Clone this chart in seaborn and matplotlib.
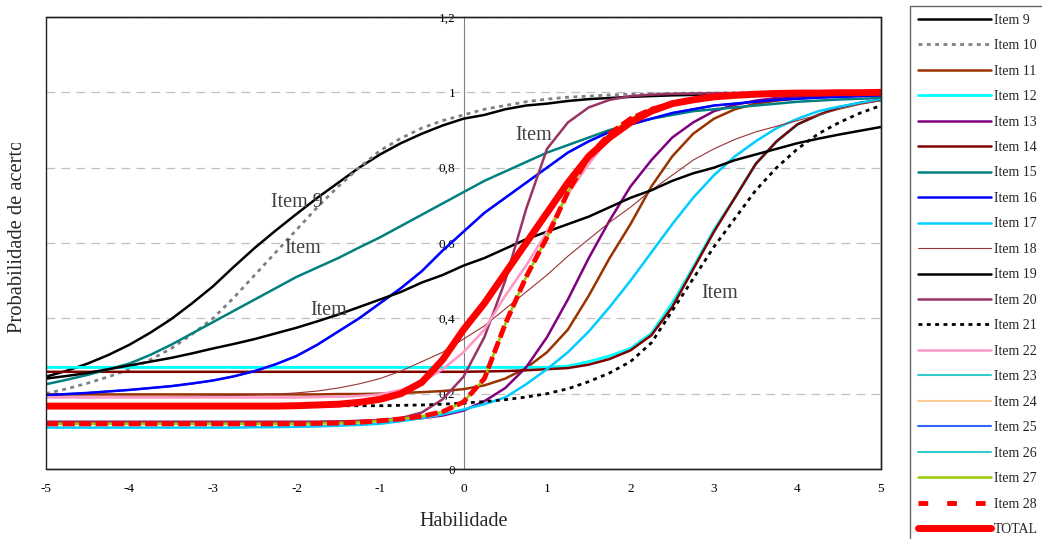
import matplotlib
matplotlib.use("Agg")
import matplotlib.pyplot as plt
from matplotlib.patches import Rectangle
from matplotlib.ticker import FuncFormatter
from matplotlib.transforms import Bbox
import seaborn as sns

# ability grid (x) shared by every curve
X = [-5, -4.75, -4.5, -4.25, -4, -3.75, -3.5, -3.25, -3, -2.75, -2.5, -2.25, -2,
     -1.75, -1.5, -1.25, -1, -0.75, -0.5, -0.25, 0,
     0.25, 0.5, 0.75, 1, 1.25, 1.5, 1.75, 2, 2.25, 2.5, 2.75, 3,
     3.25, 3.5, 3.75, 4, 4.25, 4.5, 4.75, 5]

# probabilities
ITEM9 = [0.245, 0.261, 0.28, 0.303, 0.33, 0.362, 0.398, 0.44, 0.485, 0.537, 0.587, 0.633, 0.677,
         0.72, 0.76, 0.80, 0.835, 0.865, 0.89, 0.912, 0.93,
         0.94, 0.955, 0.965, 0.97, 0.977, 0.982, 0.985, 0.988, 0.99, 0.992, 0.993, 0.994,
         0.995, 0.995, 0.996, 0.996, 0.997, 0.997, 0.997, 0.998]
ITEM10 = [0.20, 0.213, 0.228, 0.245, 0.265, 0.29, 0.32, 0.358, 0.40, 0.455, 0.515, 0.575, 0.635,
          0.695, 0.75, 0.80, 0.845, 0.878, 0.905, 0.925, 0.94,
          0.955, 0.965, 0.975, 0.982, 0.987, 0.99, 0.993, 0.995, 0.996, 0.997, 0.998, 0.998,
          0.999, 0.999, 0.999, 0.999, 1.0, 1.0, 1.0, 1.0]
ITEM11 = [0.198, 0.198, 0.198, 0.198, 0.198, 0.198, 0.198, 0.198, 0.198, 0.198, 0.198, 0.198, 0.198,
          0.198, 0.199, 0.199, 0.2, 0.202, 0.204, 0.207, 0.212,
          0.222, 0.24, 0.268, 0.31, 0.37, 0.46, 0.56, 0.65, 0.75, 0.83, 0.89, 0.93,
          0.955, 0.97, 0.978, 0.984, 0.987, 0.99, 0.991, 0.992]
ITEM12 = [0.27, 0.27, 0.27, 0.27, 0.27, 0.27, 0.27, 0.27, 0.27, 0.27, 0.27, 0.27, 0.27,
          0.27, 0.27, 0.27, 0.27, 0.27, 0.27, 0.27, 0.27,
          0.27, 0.27, 0.27, 0.27, 0.273, 0.285, 0.30, 0.32, 0.36, 0.44, 0.535, 0.635,
          0.72, 0.81, 0.87, 0.915, 0.94, 0.96, 0.972, 0.98]
ITEM13 = [0.125, 0.125, 0.125, 0.125, 0.125, 0.125, 0.125, 0.125, 0.125, 0.125, 0.125, 0.125, 0.125,
          0.125, 0.126, 0.127, 0.128, 0.13, 0.135, 0.142, 0.155,
          0.18, 0.215, 0.27, 0.35, 0.45, 0.56, 0.66, 0.75, 0.82, 0.88, 0.92, 0.95,
          0.967, 0.978, 0.985, 0.99, 0.992, 0.994, 0.995, 0.996]
ITEM14 = [0.258, 0.258, 0.258, 0.258, 0.258, 0.258, 0.258, 0.258, 0.258, 0.258, 0.258, 0.258, 0.258,
          0.258, 0.258, 0.258, 0.258, 0.258, 0.258, 0.258, 0.258,
          0.259, 0.26, 0.262, 0.265, 0.268, 0.277, 0.292, 0.315, 0.355, 0.43, 0.53, 0.63,
          0.72, 0.81, 0.87, 0.915, 0.94, 0.96, 0.972, 0.98]
ITEM15 = [0.225, 0.237, 0.25, 0.265, 0.28, 0.303, 0.33, 0.36, 0.39, 0.42, 0.45, 0.48, 0.51,
          0.535, 0.56, 0.588, 0.615, 0.645, 0.675, 0.705, 0.735,
          0.765, 0.79, 0.815, 0.84, 0.86, 0.88, 0.90, 0.915, 0.93, 0.94, 0.95, 0.955,
          0.96, 0.965, 0.97, 0.975, 0.978, 0.981, 0.983, 0.985]
ITEM16 = [0.196, 0.199, 0.202, 0.206, 0.21, 0.215, 0.22, 0.227, 0.235, 0.246, 0.26, 0.278, 0.30,
          0.33, 0.365, 0.40, 0.44, 0.48, 0.525, 0.58, 0.63,
          0.68, 0.72, 0.76, 0.80, 0.84, 0.87, 0.895, 0.915, 0.93, 0.945, 0.955, 0.965,
          0.97, 0.975, 0.98, 0.983, 0.986, 0.988, 0.99, 0.992]
ITEM17 = [0.11, 0.11, 0.11, 0.11, 0.11, 0.11, 0.11, 0.11, 0.11, 0.11, 0.111, 0.111, 0.112,
          0.113, 0.115, 0.117, 0.12, 0.127, 0.135, 0.145, 0.158,
          0.172, 0.19, 0.225, 0.265, 0.31, 0.365, 0.43, 0.50, 0.575, 0.65, 0.72, 0.78,
          0.83, 0.87, 0.905, 0.93, 0.95, 0.962, 0.972, 0.98]
ITEM18 = [0.19, 0.19, 0.19, 0.19, 0.191, 0.191, 0.192, 0.193, 0.194, 0.195, 0.197, 0.199, 0.202,
          0.207, 0.215, 0.226, 0.24, 0.26, 0.285, 0.31, 0.345,
          0.38, 0.425, 0.47, 0.515, 0.565, 0.61, 0.655, 0.695, 0.74, 0.78, 0.82, 0.85,
          0.875, 0.895, 0.91, 0.925, 0.94, 0.955, 0.968, 0.978]
ITEM19 = [0.24, 0.247, 0.255, 0.265, 0.275, 0.285, 0.295, 0.307, 0.32, 0.332, 0.345, 0.36, 0.375,
          0.392, 0.41, 0.43, 0.45, 0.47, 0.495, 0.515, 0.54,
          0.56, 0.585, 0.61, 0.63, 0.65, 0.67, 0.695, 0.72, 0.74, 0.765, 0.785, 0.80,
          0.82, 0.835, 0.85, 0.865, 0.877, 0.888, 0.898, 0.908]
ITEM20 = [0.125, 0.125, 0.125, 0.125, 0.125, 0.125, 0.125, 0.125, 0.125, 0.125, 0.125, 0.125, 0.125,
          0.125, 0.126, 0.128, 0.13, 0.135, 0.15, 0.185, 0.245,
          0.35, 0.50, 0.69, 0.85, 0.92, 0.96, 0.98, 0.99, 0.994, 0.996, 0.997, 0.998,
          0.998, 0.999, 0.999, 0.999, 1.0, 1.0, 1.0, 1.0]
ITEM21 = [0.168, 0.168, 0.168, 0.168, 0.168, 0.168, 0.168, 0.168, 0.168, 0.168, 0.168, 0.168, 0.168,
          0.168, 0.168, 0.168, 0.168, 0.169, 0.17, 0.172, 0.175,
          0.179, 0.184, 0.191, 0.2, 0.213, 0.232, 0.255, 0.285, 0.335, 0.42, 0.505, 0.59,
          0.665, 0.74, 0.80, 0.85, 0.89, 0.92, 0.945, 0.965]
ITEM22 = [0.19, 0.19, 0.19, 0.19, 0.19, 0.19, 0.19, 0.19, 0.19, 0.19, 0.19, 0.19, 0.19,
          0.191, 0.192, 0.194, 0.198, 0.21, 0.23, 0.265, 0.31,
          0.37, 0.46, 0.54, 0.63, 0.73, 0.81, 0.88, 0.925, 0.95, 0.967, 0.977, 0.984,
          0.989, 0.992, 0.994, 0.996, 0.997, 0.998, 0.998, 0.999]
ITEM28 = [0.12, 0.12, 0.12, 0.12, 0.12, 0.12, 0.12, 0.12, 0.12, 0.12, 0.12, 0.12, 0.12,
          0.121, 0.122, 0.124, 0.128, 0.133, 0.14, 0.152, 0.178,
          0.24, 0.385, 0.51, 0.615, 0.735, 0.83, 0.89, 0.93, 0.955, 0.97, 0.98, 0.988,
          0.992, 0.995, 0.997, 0.998, 0.998, 0.999, 0.999, 1.0]
TOTAL = [0.167, 0.167, 0.167, 0.167, 0.167, 0.167, 0.167, 0.167, 0.167, 0.167, 0.167, 0.167, 0.168,
         0.17, 0.172, 0.177, 0.185, 0.2, 0.23, 0.29, 0.37,
         0.44, 0.52, 0.60, 0.68, 0.76, 0.83, 0.88, 0.92, 0.95, 0.97, 0.98, 0.988,
         0.992, 0.995, 0.997, 0.998, 0.998, 0.999, 0.999, 1.0]

# items 23-27 sit exactly under other curves in the original
ITEM23 = ITEM12
ITEM24 = ITEM22
ITEM25 = ITEM16
ITEM26 = ITEM12
ITEM27 = ITEM28

NAMES = ["Item 9", "Item 10", "Item 11", "Item 12", "Item 13", "Item 14", "Item 15",
         "Item 16", "Item 17", "Item 18", "Item 19", "Item 20", "Item 21", "Item 22",
         "Item 23", "Item 24", "Item 25", "Item 26", "Item 27", "Item 28", "TOTAL"]
VALUES = [ITEM9, ITEM10, ITEM11, ITEM12, ITEM13, ITEM14, ITEM15, ITEM16, ITEM17, ITEM18,
          ITEM19, ITEM20, ITEM21, ITEM22, ITEM23, ITEM24, ITEM25, ITEM26, ITEM27, ITEM28, TOTAL]

# in-plot labels (text, x, baseline y)
NOTES = [("Item 9", -2.0, 0.696), ("Item", -1.92, 0.573), ("Item", -1.62, 0.409),
         ("Item", 0.84, 0.873), ("Item", 3.07, 0.454)]

STYLE = {
    "Item 9": dict(color="#000000", lw=1.8),
    "Item 10": dict(color="#808080", lw=2.0, dashes=[1.4, 1.6]),
    "Item 11": dict(color="#993300", lw=1.8),
    "Item 12": dict(color="#00FFFF", lw=2.0),
    "Item 13": dict(color="#800080", lw=1.8),
    "Item 14": dict(color="#800000", lw=1.8),
    "Item 15": dict(color="#008080", lw=1.8),
    "Item 16": dict(color="#0000FF", lw=1.8),
    "Item 17": dict(color="#00CCFF", lw=1.8),
    "Item 18": dict(color="#993333", lw=0.8),
    "Item 19": dict(color="#000000", lw=1.8),
    "Item 20": dict(color="#993366", lw=1.8),
    "Item 21": dict(color="#000000", lw=2.0, dashes=[1.4, 1.6]),
    "Item 22": dict(color="#FF99CC", lw=1.8),
    "Item 23": dict(color="#33CCCC", lw=1.5, z=1.5),
    "Item 24": dict(color="#FFCC99", lw=1.5, z=1.5),
    "Item 25": dict(color="#3366FF", lw=1.5, z=1.5),
    "Item 26": dict(color="#33CCCC", lw=1.5, z=1.5),
    "Item 27": dict(color="#99CC00", lw=1.8),
    "Item 28": dict(color="#FF0000", lw=3.5, dashes=[2.5, 0.9], legend_dashes=[2.0, 3.9]),
    "TOTAL": dict(color="#FF0000", lw=5.0),
}

sns.set_style("white")
plt.rcParams["font.family"] = ["Liberation Serif", "DejaVu Serif"]
plt.rcParams["axes.unicode_minus"] = False

fig = plt.figure(figsize=(10.42, 5.39), dpi=100)
ax = fig.add_axes([46 / 1042, 1 - 469 / 539, 835 / 1042, 452 / 539])

handles = []
for name, vals in zip(NAMES, VALUES):
    st = STYLE[name]
    sns.lineplot(x=X, y=vals, ax=ax, color=st["color"], linewidth=st["lw"],
                 sort=False, estimator=None, zorder=st.get("z", 2))
    line = ax.lines[-1]
    line.set_label(name)
    if "dashes" in st:
        line.set_dashes(st["dashes"])
    handles.append(line)

ax.set_xlim(-5, 5)
ax.set_ylim(0, 1.2)
ax.set_xticks(range(-5, 6))
ax.set_yticks([0, 0.2, 0.4, 0.6, 0.8, 1.0, 1.2])
ax.yaxis.set_major_formatter(FuncFormatter(lambda v, p: f"{v:g}".replace(".", ",")))
ax.yaxis.grid(True, color="#C0C0C0", linestyle=(0, (7, 5)), linewidth=0.9)
ax.set_axisbelow(True)

# vertical axis sits at x = 0, plot area keeps a full frame
ax.spines["left"].set_position(("data", 0))
ax.spines["left"].set_color("#808080")
ax.spines["left"].set_zorder(1)
for side in ["top", "right", "bottom"]:
    ax.spines[side].set_color("#404040")
    ax.spines[side].set_linewidth(1)
ax.add_patch(Rectangle((0, 0), 1, 1, transform=ax.transAxes, fill=False,
                       edgecolor="#202020", linewidth=1, zorder=5, clip_on=False))
ax.tick_params(axis="both", direction="out", length=4, width=1, colors="#404040",
               labelcolor="black", labelsize=9.5)
ax.tick_params(axis="x", pad=6)
ax.tick_params(axis="y", pad=2)

ax.set_xlabel("Habilidade", fontsize=14.5, labelpad=12)
ax.set_ylabel("")
ylab = fig.text(18 / 1042, 1 - 236 / 539, "Probabilidade de acerto", rotation=90,
                ha="center", va="center", fontsize=14.8)
# the original title is cut off just above the top of the text box
ylab.set_clip_box(Bbox([[0, 0], [60, 539 - 143]]))
ylab.set_clip_on(True)

for txt, tx, ty in NOTES:
    ax.text(tx, ty, txt, ha="center", va="baseline", fontsize=14.5, color="#404040", zorder=6)

leg = ax.legend(handles, NAMES, loc="upper left", bbox_to_anchor=(910 / 1042, 1 - 6 / 539),
                bbox_transform=fig.transFigure, frameon=True, fancybox=False,
                edgecolor="#404040", borderaxespad=0, borderpad=0.55, fontsize=10,
                handlelength=5.25, handletextpad=0.25, labelspacing=0.898)
leg.get_frame().set_linewidth(1)
for name, lh in zip(NAMES, leg.legend_handles):
    if "legend_dashes" in STYLE[name]:
        lh.set_dashes(STYLE[name]["legend_dashes"])

fig.savefig("out.png", dpi=100)
